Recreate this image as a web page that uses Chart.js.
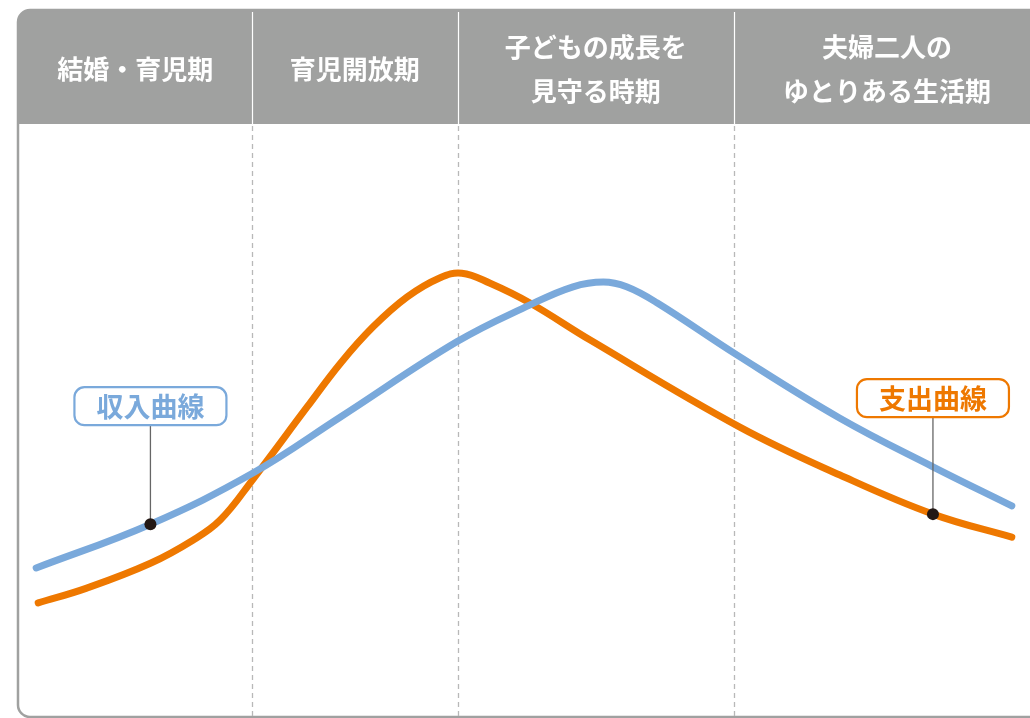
<!DOCTYPE html>
<html>
<head>
<meta charset="utf-8">
<script src="https://cdn.jsdelivr.net/npm/chart.js@4.4.1/dist/chart.umd.min.js"></script>
<style>
  body { margin: 0; background: #fff; }
  #wrap { position: relative; width: 1030px; height: 718px; }
</style>
</head>
<body>
<div id="wrap"><canvas id="lifeChart" width="1030" height="718"></canvas></div>
<script>
// life stages (x = time axis, 0..100)
const periodNames = [['結婚・育児期'], ['育児開放期'], ['子どもの成長を', '見守る時期'], ['夫婦二人の', 'ゆとりある生活期']];
const periodBounds = [0, 23.0, 43.4, 70.7, 101];

const incomeX = [1.7, 13.0, 23.1, 31.8, 43.3, 50.5, 54.8, 57.8, 60.1, 63.1, 71.0, 81.2, 90.4, 98.2];
const incomeY = [25.0, 32.4, 41.0, 50.5, 63.2, 69.4, 72.5, 73.3, 72.5, 69.8, 61.0, 50.3, 42.1, 35.5];

const costX = [1.9, 6.7, 13.0, 17.2, 19.9, 23.1, 28.5, 31.8, 35.0, 38.4, 41.6, 43.8, 46.6, 50.5, 56.5, 71.3, 81.2, 90.4, 98.2];
const costY = [19.1, 21.6, 25.8, 29.7, 33.1, 39.9, 52.2, 59.6, 65.7, 70.8, 74.0, 74.8, 73.1, 69.8, 63.5, 48.8, 40.7, 34.1, 30.2];

const seriesLabels = ['収入曲線', '支出曲線'];
const calloutIndex = [1, 17];   // point on each curve that the label points to
const calloutLift = [99, 97];   // how far above the point the label sits (px)

const blue = '#7aa9db';
const orange = '#ee7800';
const gray = '#a0a1a0';
const font = '"Noto Sans CJK JP", "Noto Sans", sans-serif';

function toPoints(xs, ys) {
  return xs.map((x, i) => ({ x: x, y: ys[i] }));
}

function roundRect(ctx, x, y, w, h, r) {
  ctx.beginPath();
  ctx.moveTo(x + r, y);
  ctx.lineTo(x + w - r, y);
  ctx.arcTo(x + w, y, x + w, y + r, r);
  ctx.lineTo(x + w, y + h - r);
  ctx.arcTo(x + w, y + h, x + w - r, y + h, r);
  ctx.lineTo(x + r, y + h);
  ctx.arcTo(x, y + h, x, y + h - r, r);
  ctx.lineTo(x, y + r);
  ctx.arcTo(x, y, x + r, y, r);
  ctx.closePath();
}

const framePlugin = {
  id: 'frame',
  beforeDatasetsDraw(chart) {
    const ctx = chart.ctx;
    const area = chart.chartArea;
    const xs = chart.scales.x;
    const headTop = 10;
    ctx.save();
    // header band
    roundRect(ctx, area.left - 1, headTop, 1060, area.top - headTop + 20, 12);
    ctx.save();
    ctx.clip();
    ctx.fillStyle = gray;
    ctx.fillRect(area.left - 2, headTop, 1060, area.top - headTop);
    ctx.restore();
    // outer frame (left + bottom)
    ctx.strokeStyle = gray;
    ctx.lineWidth = 2.5;
    roundRect(ctx, area.left - 1, headTop, 1060, area.bottom - headTop + 1, 12);
    ctx.stroke();

    // period separators
    for (let i = 1; i < periodBounds.length - 1; i++) {
      const px = Math.round(xs.getPixelForValue(periodBounds[i])) + 0.5;
      ctx.strokeStyle = '#ffffff';
      ctx.lineWidth = 1.2;
      ctx.setLineDash([]);
      ctx.beginPath();
      ctx.moveTo(px, headTop + 2);
      ctx.lineTo(px, area.top);
      ctx.stroke();
      ctx.strokeStyle = '#b8b8b8';
      ctx.lineWidth = 1.3;
      ctx.setLineDash([5, 4]);
      ctx.beginPath();
      ctx.moveTo(px, area.top + 2);
      ctx.lineTo(px, area.bottom + 2);
      ctx.stroke();
    }
    ctx.setLineDash([]);

    // period names
    ctx.fillStyle = '#ffffff';
    ctx.font = 'bold 26px ' + font;
    ctx.textAlign = 'center';
    ctx.textBaseline = 'middle';
    periodNames.forEach((lines, i) => {
      const cx = (xs.getPixelForValue(periodBounds[i]) + xs.getPixelForValue(periodBounds[i + 1])) / 2;
      const mid = (headTop + area.top) / 2 + 2;
      lines.forEach((t, j) => {
        const y = mid + (j - (lines.length - 1) / 2) * 44;
        ctx.fillText(t, cx, y);
      });
    });
    ctx.restore();
  },
  afterDatasetsDraw(chart) {
    const ctx = chart.ctx;
    const colors = [blue, orange];
    ctx.save();
    chart.data.datasets.forEach((ds, k) => {
      const p = ds.data[calloutIndex[k]];
      const px = chart.scales.x.getPixelForValue(p.x);
      const py = chart.scales.y.getPixelForValue(p.y);
      const boxW = 152, boxH = 38;
      const boxBottom = py - calloutLift[k];
      // leader line
      ctx.strokeStyle = '#666666';
      ctx.lineWidth = 1.3;
      ctx.beginPath();
      ctx.moveTo(px, boxBottom);
      ctx.lineTo(px, py);
      ctx.stroke();
      // dot
      ctx.fillStyle = '#231815';
      ctx.beginPath();
      ctx.arc(px, py, 6, 0, Math.PI * 2);
      ctx.fill();
      // label box
      roundRect(ctx, px - boxW / 2, boxBottom - boxH, boxW, boxH, 10);
      ctx.fillStyle = '#ffffff';
      ctx.fill();
      ctx.strokeStyle = colors[k];
      ctx.lineWidth = 2.2;
      ctx.stroke();
      ctx.fillStyle = colors[k];
      ctx.font = 'bold 27px ' + font;
      ctx.textAlign = 'center';
      ctx.textBaseline = 'middle';
      ctx.fillText(seriesLabels[k], px, boxBottom - boxH / 2 + 1);
    });
    ctx.restore();
  }
};

new Chart(document.getElementById('lifeChart'), {
  type: 'line',
  data: {
    datasets: [{
      label: seriesLabels[0],
      data: toPoints(incomeX, incomeY),
      borderColor: blue,
      borderWidth: 7,
      pointRadius: 0,
      tension: 0.4,
      borderCapStyle: 'round',
      borderJoinStyle: 'round'
    }, {
      label: seriesLabels[1],
      data: toPoints(costX, costY),
      borderColor: orange,
      borderWidth: 7,
      pointRadius: 0,
      tension: 0.4,
      borderCapStyle: 'round',
      borderJoinStyle: 'round'
    }]
  },
  options: {
    responsive: false,
    animation: false,
    layout: { padding: { left: 19, right: 0, top: 124, bottom: 2 } },
    plugins: { legend: { display: false }, tooltip: { enabled: false } },
    scales: {
      x: { type: 'linear', min: 0, max: 100, display: false },
      y: { min: 0, max: 100, display: false }
    }
  },
  plugins: [framePlugin]
});
</script>
</body>
</html>
